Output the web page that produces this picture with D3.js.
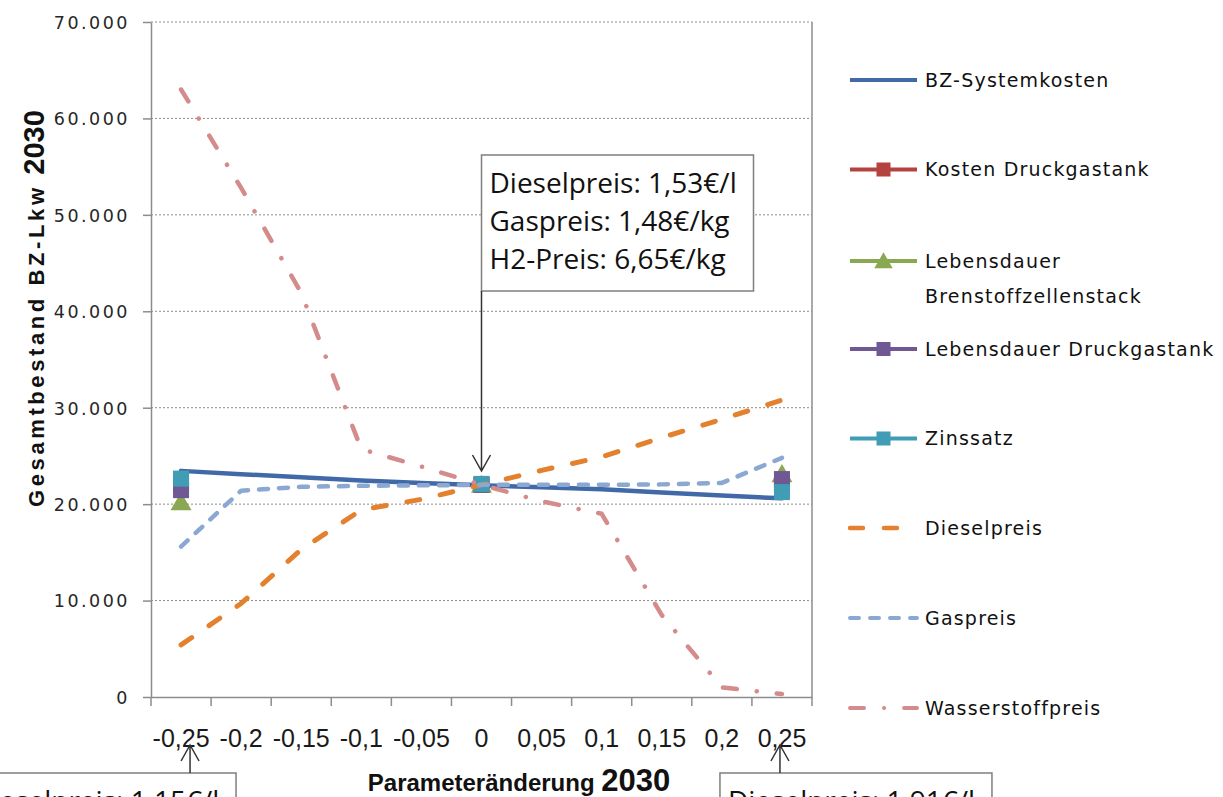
<!DOCTYPE html>
<html>
<head>
<meta charset="utf-8">
<script src="https://cdn.jsdelivr.net/npm/d3@7"></script>
<style>
  body { margin: 0; background: #fff; }
  svg { display: block; }
</style>
</head>
<body>
<div id="chart"></div>
<script>
const svgWidth = 1223
const svgHeight = 797

// x categories (Parameteränderung) and their labels
const categories = [-0.25, -0.2, -0.15, -0.1, -0.05, 0, 0.05, 0.1, 0.15, 0.2, 0.25]
const categoryLabels = ["-0,25", "-0,2", "-0,15", "-0,1", "-0,05", "0", "0,05", "0,1", "0,15", "0,2", "0,25"]
const yTicks = [0, 10000, 20000, 30000, 40000, 50000, 60000, 70000]

// Gesamtbestand BZ-Lkw per series
const bzSystemkosten = [23450, 23100, 22800, 22450, 22200, 21950, 21750, 21550, 21200, 20900, 20600]
const kostenDruckgastank = [22100, null, null, null, null, 22000, null, null, null, null, 22000]
const lebensdauerStack = [20000, null, null, null, null, 21800, null, null, null, null, 22900]
const lebensdauerDruckgastank = [21450, null, null, null, null, 22000, null, null, null, null, 22600]
const zinssatz = [22650, null, null, null, null, 22100, null, null, null, null, 21250]
const dieselpreis = [5400, 9700, 15300, 19400, 20500, 22000, 23500, 24900, 26900, 28800, 30800]
const gaspreis = [15600, 21400, 21800, 21900, 21950, 22000, 22000, 22000, 22050, 22200, 24800]
const wasserstoffpreis = [63000, 52800, 41900, 25700, 23900, 22000, 20300, 19000, 8500, 1000, 300]

// annotation texts
const centerNote = ["Dieselpreis: 1,53€/l", "Gaspreis: 1,48€/kg", "H2-Preis: 6,65€/kg"]
const leftNote = "Dieselpreis: 1,15€/l"
const rightNote = "Dieselpreis: 1,91€/l"

let series = [
  { name: ["BZ-Systemkosten"], values: bzSystemkosten, color: "#4169a8", width: 4.5, dash: null, marker: null },
  { name: ["Kosten Druckgastank"], values: kostenDruckgastank, color: "#b4423f", width: 4.5, dash: null, marker: "square" },
  { name: ["Lebensdauer", "Brenstoffzellenstack"], values: lebensdauerStack, color: "#8aa852", width: 4.5, dash: null, marker: "triangle" },
  { name: ["Lebensdauer Druckgastank"], values: lebensdauerDruckgastank, color: "#6f5893", width: 4.5, dash: null, marker: "square" },
  { name: ["Zinssatz"], values: zinssatz, color: "#419db5", width: 4.5, dash: null, marker: "square" },
  { name: ["Dieselpreis"], values: dieselpreis, color: "#e4812f", width: 5, dash: "13 21", marker: null },
  { name: ["Gaspreis"], values: gaspreis, color: "#8ba8d3", width: 4.5, dash: "9 11", marker: null },
  { name: ["Wasserstoffpreis"], values: wasserstoffpreis, color: "#d48b8b", width: 4.5, dash: "14 20 0.1 20", marker: null }
]

let plot = { left: 151, right: 812, top: 22, bottom: 697 }

let svg = d3.select("#chart")
  .append("svg")
  .attr("width", svgWidth)
  .attr("height", svgHeight)

let xBand = d3.scaleBand()
  .domain(categories)
  .range([plot.left, plot.right])

let xPos = d => xBand(d) + xBand.bandwidth() / 2

let yScale = d3.scaleLinear()
  .domain([0, 70000])
  .range([plot.bottom, plot.top])

let de = d3.formatLocale({ decimal: ",", thousands: ".", grouping: [3], currency: ["", "€"] })
let fmt = de.format(",d")

// gridlines
svg.append("g")
  .selectAll("line")
  .data(yTicks.filter(d => d > 0))
  .enter()
  .append("line")
  .attr("x1", plot.left)
  .attr("x2", plot.right)
  .attr("y1", d => yScale(d))
  .attr("y2", d => yScale(d))
  .attr("stroke", "#8c8c8c")
  .attr("stroke-width", 1)
  .attr("stroke-dasharray", "2 2")

// right border
svg.append("line")
  .attr("x1", plot.right).attr("x2", plot.right)
  .attr("y1", plot.top).attr("y2", plot.bottom)
  .attr("stroke", "#8c8c8c")
  .attr("stroke-width", 1.5)

// y axis
let yAxis = svg.append("g")
  .attr("transform", `translate(${plot.left}, 0)`)
  .call(d3.axisLeft(yScale).tickValues(yTicks).tickFormat(fmt).tickSize(8).tickSizeOuter(0).tickPadding(13))

yAxis.select(".domain").attr("stroke", "#8c8c8c").attr("stroke-width", 1.5)
yAxis.selectAll(".tick line").attr("stroke", "#8c8c8c").attr("stroke-width", 1.5)
yAxis.selectAll(".tick text")
  .attr("font-family", "DejaVu Sans")
  .attr("font-size", "17.5px")
  .attr("letter-spacing", "2.5px")
  .attr("fill", "#262626")
  .attr("dy", "0.36em")

// x axis (labels at category centres, ticks at boundaries)
let xAxis = svg.append("g")
  .attr("transform", `translate(0, ${plot.bottom})`)
  .call(d3.axisBottom(xBand).tickFormat((d, i) => categoryLabels[i]).tickSize(0).tickSizeOuter(0).tickPadding(50))

xAxis.select(".domain").attr("stroke", "#8c8c8c").attr("stroke-width", 1.5)
xAxis.selectAll(".tick text")
  .attr("font-family", "Liberation Sans")
  .attr("font-size", "25px")
  .attr("fill", "#1a1a1a")
  .attr("dy", "0")

xAxis.selectAll("line.boundary")
  .data(categories.concat([null]))
  .enter()
  .append("line")
  .classed("boundary", true)
  .attr("x1", (d, i) => plot.left + i * xBand.step())
  .attr("x2", (d, i) => plot.left + i * xBand.step())
  .attr("y1", 0)
  .attr("y2", 9)
  .attr("stroke", "#8c8c8c")
  .attr("stroke-width", 1.5)

// axis titles
let xTitle = svg.append("text")
  .attr("x", 519)
  .attr("y", 791)
  .attr("text-anchor", "middle")
  .attr("font-family", "Liberation Sans")
  .attr("font-weight", "bold")
  .attr("fill", "#111")
xTitle.append("tspan").attr("font-size", "24px").text("Parameteränderung ")
xTitle.append("tspan").attr("font-size", "31px").text("2030")

let yTitle = svg.append("text")
  .attr("transform", "translate(44, 507) rotate(-90)")
  .attr("font-family", "Liberation Sans")
  .attr("font-weight", "bold")
  .attr("fill", "#111")
yTitle.append("tspan").attr("font-size", "22px").attr("letter-spacing", "3.6px").text("Gesamtbestand BZ-Lkw  ")
yTitle.append("tspan").attr("font-size", "29px").text("2030")

// series lines and markers
let line = d3.line()
  .defined(d => d.v !== null)
  .x(d => xPos(d.c))
  .y(d => yScale(d.v))

let triangle = d3.symbol().type(d3.symbolTriangle)

function drawMarker(g, s, x, y, size) {
  if (s.marker === "square") {
    g.append("rect")
      .attr("x", x - size / 2).attr("y", y - size / 2)
      .attr("width", size).attr("height", size)
      .attr("fill", s.color)
  } else if (s.marker === "triangle") {
    g.append("path")
      .attr("d", triangle.size(size * size * 0.75)())
      .attr("transform", `translate(${x}, ${y})`)
      .attr("fill", s.color)
  }
}

let seriesGroup = svg.append("g")

series.forEach(s => {
  let pts = categories.map((c, i) => ({ c: c, v: s.values[i] }))
  let g = seriesGroup.append("g")
  g.append("path")
    .datum(pts)
    .attr("d", line)
    .attr("fill", "none")
    .attr("stroke", s.color)
    .attr("stroke-width", s.width)
    .attr("stroke-linecap", "round")
    .attr("stroke-linejoin", "round")
    .attr("stroke-dasharray", s.dash)
  if (s.marker) {
    pts.filter(d => d.v !== null).forEach(d => drawMarker(g, s, xPos(d.c), yScale(d.v), 16))
  }
})

// legend
let legend = svg.append("g").attr("transform", "translate(850, 80)")
let rowY = [0, 89.5, 181, 269, 358.5, 448, 538, 628]

series.forEach((s, i) => {
  let row = legend.append("g").attr("transform", `translate(0, ${rowY[i]})`)
  row.append("line")
    .attr("x1", 0).attr("x2", 67)
    .attr("y1", 0).attr("y2", 0)
    .attr("stroke", s.color)
    .attr("stroke-width", s.width - 0.5)
    .attr("stroke-dasharray", s.dash)
    .attr("stroke-linecap", s.dash ? "round" : "butt")
  if (s.marker) drawMarker(row, s, 33.5, s.marker === "triangle" ? 2 : 0, 14)
  s.name.forEach((t, k) => {
    row.append("text")
      .attr("x", 75)
      .attr("y", k * 35)
      .attr("dy", "0.36em")
      .attr("font-family", "DejaVu Sans")
      .attr("font-size", "19px")
      .attr("letter-spacing", "1.2px")
      .attr("fill", "#111")
      .text(t)
  })
})

// annotation boxes with arrows
function noteBox(x, y, w, h, lines, textX) {
  let g = svg.append("g")
  g.append("rect")
    .attr("x", x).attr("y", y)
    .attr("width", w).attr("height", h)
    .attr("fill", "#fff")
    .attr("stroke", "#7f7f7f")
    .attr("stroke-width", 1.5)
  lines.forEach((t, i) => {
    g.append("text")
      .attr("x", textX)
      .attr("y", y + 38 + i * 38)
      .attr("font-family", "Open Sans")
      .attr("font-size", "28px")
      .attr("fill", "#111")
      .text(t)
  })
}

function arrow(x, y1, y2) {
  let dir = y2 > y1 ? 1 : -1
  svg.append("path")
    .attr("d", `M${x},${y1}L${x},${y2}M${x - 9},${y2 - dir * 16}L${x},${y2}L${x + 9},${y2 - dir * 16}`)
    .attr("fill", "none")
    .attr("stroke", "#333")
    .attr("stroke-width", 1.5)
}

let cx0 = xPos(0)
noteBox(cx0, 155, 272, 136, centerNote, cx0 + 8)
arrow(cx0, 291, 471)

let cxl = xPos(-0.25) + 9
noteBox(cxl + 46 - 272, 773, 272, 60, [leftNote], cxl + 46 - 272 + 8)
arrow(cxl, 773, 745)

let cxr = xPos(0.25) - 2
noteBox(cxr - 60, 773, 272, 60, [rightNote], cxr - 60 + 8)
arrow(cxr, 773, 745)
</script>
</body>
</html>
